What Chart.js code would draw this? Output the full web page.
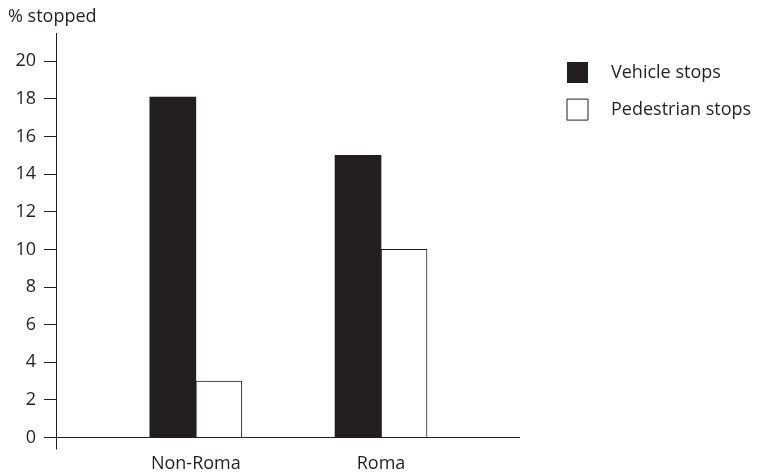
<!DOCTYPE html>
<html>
<head>
<meta charset="utf-8">
<script src="https://cdn.jsdelivr.net/npm/chart.js@4.4.1/dist/chart.umd.min.js"></script>
<style>
  html, body { margin: 0; padding: 0; background: #fff; }
  #wrap { width: 758px; height: 475px; }
</style>
</head>
<body>
<div id="wrap"><canvas id="c" width="758" height="475"></canvas></div>
<script>
const categories = ['Non-Roma', 'Roma'];
const vehicleStops = [18.1, 15];
const pedestrianStops = [3, 10];
const yTickValues = [0, 2, 4, 6, 8, 10, 12, 14, 16, 18, 20];
const seriesNames = ['Vehicle stops', 'Pedestrian stops'];

const INK = '#231f20';
const FONT = 'Open Sans';
const FS = 18;

const toPoints = arr => arr.map((v, i) => ({ x: i, y: v }));

// let the legend draw its labels past its (narrow) layout box
const widenLegend = {
  id: 'widenLegend',
  beforeDraw(chart) {
    const l = chart.legend;
    if (l) { l.right = chart.width; l.width = l.right - l.left; }
  }
};

new Chart(document.getElementById('c'), {
  type: 'bar',
  plugins: [widenLegend],
  data: {
    datasets: [
      {
        label: seriesNames[0],
        data: toPoints(vehicleStops),
        backgroundColor: INK,
        borderColor: INK,
        borderWidth: 0
      },
      {
        label: seriesNames[1],
        data: toPoints(pedestrianStops),
        backgroundColor: '#ffffff',
        borderColor: INK,
        borderWidth: 1
      }
    ]
  },
  options: {
    responsive: false,
    animation: false,
    devicePixelRatio: 1,
    barThickness: 46,
    layout: { padding: { left: 8, right: 107, top: 0, bottom: -2.5 } },
    plugins: {
      tooltip: { enabled: false },
      title: {
        display: true,
        text: '% stopped',
        align: 'start',
        color: INK,
        font: { family: FONT, size: FS, weight: 'normal', lineHeight: 1.2 },
        padding: { top: 6.5, bottom: 5 }
      },
      legend: {
        position: 'right',
        align: 'start',
        fullSize: false,
        maxWidth: 100,
        title: { display: true, text: '', font: { size: 10, lineHeight: 1.3 }, padding: 0 },
        labels: {
          color: INK,
          font: { family: FONT, size: FS },
          boxWidth: 21,
          boxHeight: 21,
          padding: 16,
          generateLabels(chart) {
            const items = Chart.defaults.plugins.legend.labels.generateLabels(chart);
            items.forEach(it => { it.text = '   ' + it.text; });
            return items;
          }
        }
      }
    },
    scales: {
      x: {
        type: 'linear',
        offset: false,
        min: -0.755,
        max: 1.745,
        afterBuildTicks(scale) {
          scale.ticks = [{ value: -0.755 }].concat(categories.map((c, i) => ({ value: i })));
        },
        ticks: {
          color: INK,
          font: { family: FONT, size: FS, lineHeight: 1.0 },
          padding: 5,
          autoSkip: false,
          maxRotation: 0,
          callback: (v) => (Number.isInteger(v) && categories[v] !== undefined) ? categories[v] : ''
        },
        grid: {
          offset: false,
          drawOnChartArea: false,
          drawTicks: true,
          tickLength: 12,
          color: (ctx) => ctx.index === 0 ? INK : 'rgba(0,0,0,0)'
        },
        border: { display: true, color: INK, width: 1 }
      },
      y: {
        type: 'linear',
        min: 0,
        max: 21.5,
        afterBuildTicks(scale) {
          scale.ticks = yTickValues.map(v => ({ value: v }));
        },
        afterFit(scale) { scale.width = 48; },
        ticks: {
          color: INK,
          font: { family: FONT, size: FS },
          padding: 8
        },
        grid: {
          drawOnChartArea: false,
          drawTicks: true,
          tickLength: 12,
          color: INK
        },
        border: { display: true, color: INK, width: 1 }
      },
      gap: {
        type: 'linear',
        position: 'right',
        display: true,
        ticks: { display: false },
        grid: { display: false },
        border: { display: false },
        afterFit(scale) { scale.width = 32; }
      }
    }
  }
});
</script>
</body>
</html>
